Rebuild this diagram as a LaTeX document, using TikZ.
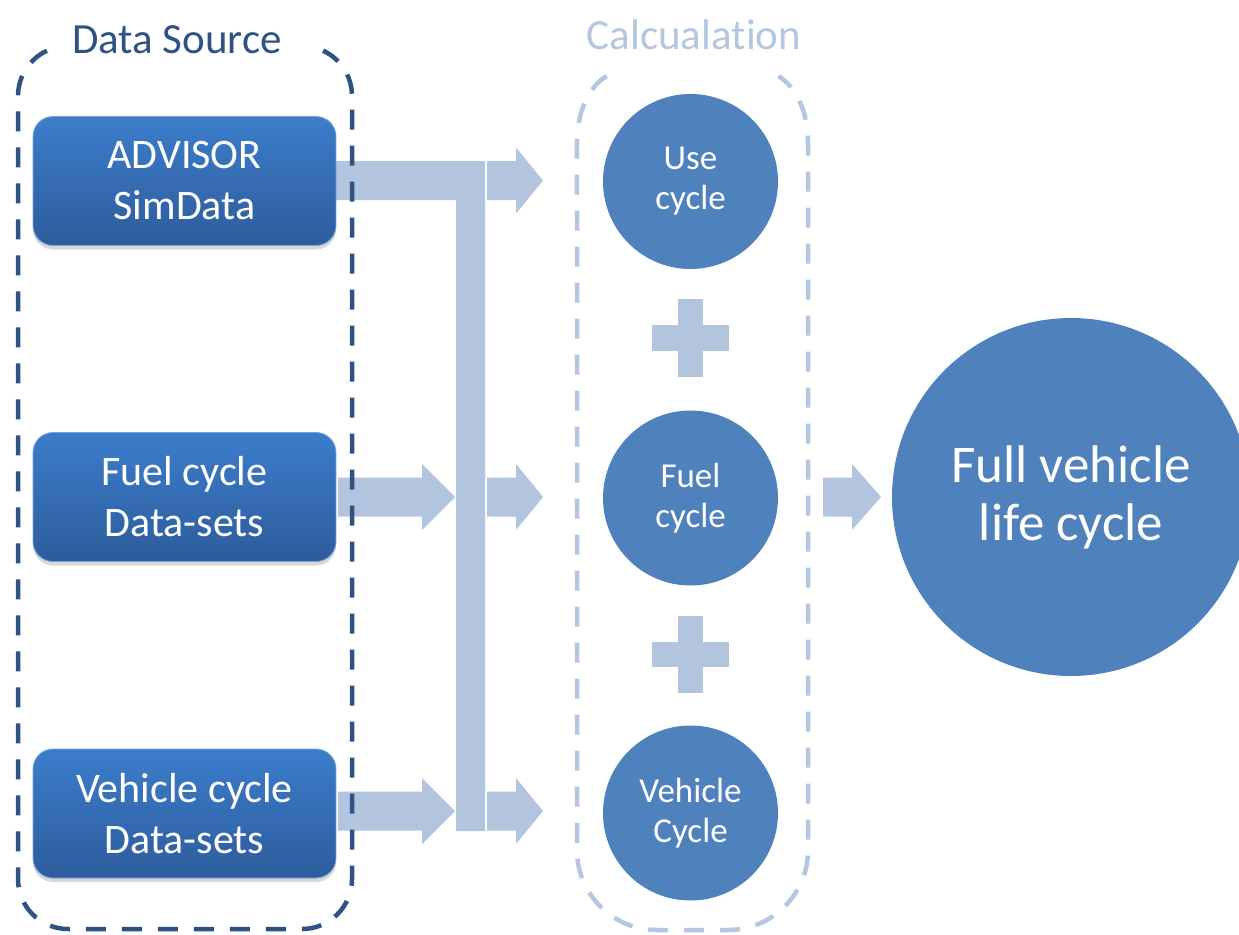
\documentclass[tikz,border=0pt]{standalone}
\usepackage{fontspec}
\setmainfont{Carlito}[Ligatures=NoCommon]
\usetikzlibrary{shadows}
\definecolor{dsblue}{RGB}{46,82,132}
\definecolor{flowblue}{RGB}{179,196,222}
\definecolor{calcline}{RGB}{180,198,224}
\definecolor{circblue}{RGB}{79,129,189}
\definecolor{boxtop}{RGB}{60,125,203}
\definecolor{boxbot}{RGB}{45,92,156}
\newcommand\blockarr[4]{\fill[flow] (#1,#4-19.5) -- (#2,#4-19.5) -- (#2,#4-33) -- (#3,#4) -- (#2,#4+33) -- (#2,#4+19.5) -- (#1,#4+19.5) -- cycle;}
\begin{document}
\begin{tikzpicture}[x=1pt,y=-1pt,
  flow/.style={fill=flowblue},
  srcbox/.style={rounded corners=20pt, minimum width=303pt, minimum height=129pt, inner sep=0pt,
    top color=boxtop, bottom color=boxbot, draw=boxtop!70!white, line width=0.8pt,
    text=white, align=center, font=\fontsize{42}{51}\selectfont,
    drop shadow={shadow xshift=0pt, shadow yshift=-4pt, opacity=0.3}},
  cyc/.style={circle, fill=circblue, minimum size=175pt, inner sep=0pt, text=white, align=center, font=\fontsize{35}{40}\selectfont},
  bigcyc/.style={circle, fill=circblue, minimum size=358pt, inner sep=0pt, text=white, align=center, font=\fontsize{53}{58}\selectfont},
  dsframe/.style={draw=dsblue, line width=4.5pt, dash pattern=on 20pt off 16pt},
  calcframe/.style={draw=calcline, line width=4.5pt, dash pattern=on 20pt off 16pt},
  title/.style={font=\fontsize{43}{48}\selectfont, inner sep=0pt, anchor=base}
]
\useasboundingbox (0,0) rectangle (1239,934);
\fill[white] (0,0) rectangle (1239,934);

% flows
\fill[flow] (330,161) -- (485,161) -- (485,831) -- (456,831) -- (456,200) -- (330,200) -- cycle;
\blockarr{487}{516}{543}{180.5}
\blockarr{338}{422}{455}{497}
\blockarr{487}{516}{543}{497}
\blockarr{338}{422}{455}{811}
\blockarr{487}{516}{543}{811}
\blockarr{823}{852}{881}{497}

% plus signs
\fill[flow] (678,299) rectangle (703,377);
\fill[flow] (652,325) rectangle (729,351);
\fill[flow] (678,616) rectangle (703,693);
\fill[flow] (652,642) rectangle (729,667);

% source boxes
\node[srcbox] (adv) at (184.5,181) {ADVISOR\\SimData};
\node[srcbox] (fuel) at (184.5,497) {Fuel cycle\\Data-sets};
\node[srcbox] (veh) at (184.5,813.5) {Vehicle cycle\\Data-sets};

% data source frame
\draw[dsframe] (46.9,50.7) arc[start angle=245, end angle=180, radius=50] -- (18,879)
  arc[start angle=180, end angle=90, radius=50] -- (302,929)
  arc[start angle=90, end angle=0, radius=50] -- (352,96)
  arc[start angle=0, end angle=-65, radius=50];
\node[title, text=dsblue] (dstitle) at (177,54) {Data Source};

% calculation frame
\draw[calcframe] (606.6,76.2) arc[start angle=250, end angle=180, x radius=45, y radius=70] -- (577,850)
  arc[start angle=180, end angle=90, radius=80] -- (728,930)
  arc[start angle=90, end angle=0, radius=80] -- (808,142)
  arc[start angle=0, end angle=-70, x radius=45, y radius=70];
\node[title, text=calcline] (calctitle) at (694,49) {Calcualation};

% circles
\node[cyc] (use) at (690.5,181.5) {Use\\cycle};
\node[cyc] (fc) at (690.5,498) {Fuel\\cycle};
\node[cyc] (vc) at (690.5,813) {Vehicle\\Cycle};
\node[bigcyc] (full) at (1071,497) {Full vehicle\\life cycle};
\end{tikzpicture}
\end{document}
